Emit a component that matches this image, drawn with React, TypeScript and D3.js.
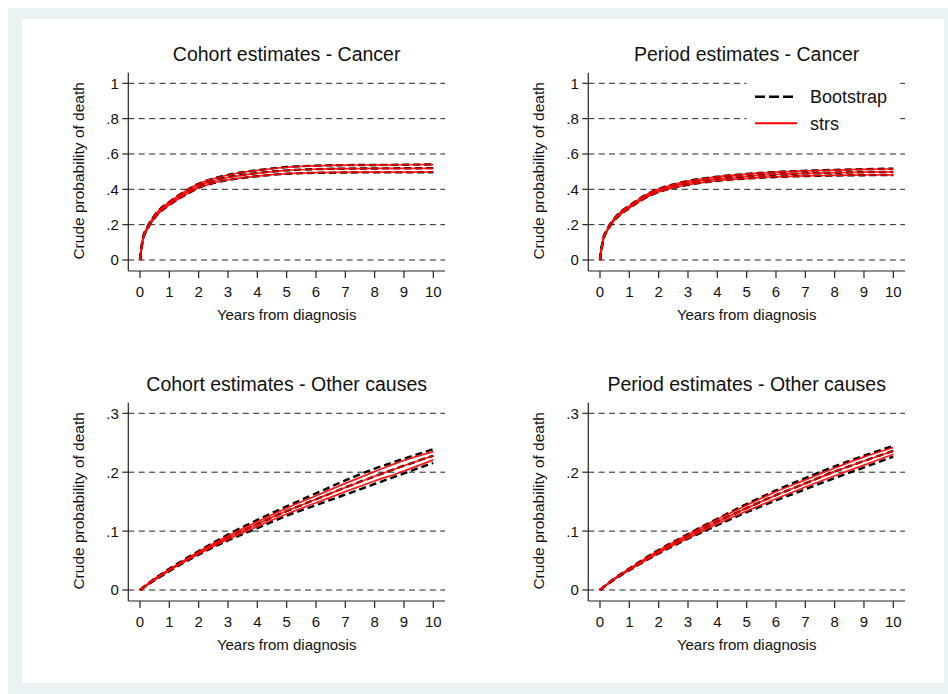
import React, { useEffect, useRef } from 'react';
import * as d3 from 'd3';

const FONT = '"Liberation Sans", Arial, Helvetica, sans-serif';

// follow-up grid (years) used by the estimates
const yearsCancer = [0, 0.1, 0.25, 0.5, 0.75, 1, 1.5, 2, 2.5, 3, 4, 5, 6, 7, 8, 9, 10];
const yearsOther = [0, 0.5, 1, 2, 3, 4, 5, 6, 7, 8, 9, 10];

// Cohort - Cancer
const cohortCancerStrs = [0, 0.12, 0.18, 0.245, 0.29, 0.32, 0.375, 0.42, 0.448, 0.467, 0.491, 0.507, 0.514, 0.517, 0.518, 0.519, 0.519];
const cohortCancerStrsLo = [0, 0.116, 0.175, 0.238, 0.282, 0.312, 0.365, 0.409, 0.436, 0.453, 0.475, 0.489, 0.494, 0.496, 0.497, 0.497, 0.498];
const cohortCancerStrsHi = [0, 0.124, 0.185, 0.252, 0.298, 0.328, 0.385, 0.431, 0.46, 0.481, 0.507, 0.525, 0.533, 0.537, 0.538, 0.539, 0.54];
const cohortCancerBoot = [0, 0.121, 0.181, 0.246, 0.29, 0.321, 0.376, 0.42, 0.448, 0.468, 0.492, 0.507, 0.514, 0.517, 0.518, 0.519, 0.52];
const cohortCancerBootLo = [0, 0.115, 0.174, 0.237, 0.281, 0.311, 0.364, 0.408, 0.435, 0.452, 0.474, 0.488, 0.493, 0.495, 0.496, 0.496, 0.497];
const cohortCancerBootHi = [0, 0.125, 0.186, 0.253, 0.299, 0.329, 0.386, 0.432, 0.461, 0.482, 0.508, 0.526, 0.534, 0.537, 0.538, 0.539, 0.541];

// Period - Cancer
const periodCancerStrs = [0, 0.11, 0.17, 0.232, 0.272, 0.3, 0.355, 0.393, 0.418, 0.436, 0.46, 0.474, 0.484, 0.49, 0.494, 0.497, 0.499];
const periodCancerStrsLo = [0, 0.107, 0.166, 0.227, 0.266, 0.294, 0.348, 0.385, 0.409, 0.426, 0.449, 0.462, 0.471, 0.476, 0.479, 0.481, 0.482];
const periodCancerStrsHi = [0, 0.113, 0.174, 0.237, 0.278, 0.306, 0.362, 0.401, 0.427, 0.446, 0.471, 0.486, 0.497, 0.504, 0.509, 0.513, 0.516];
const periodCancerBoot = [0, 0.11, 0.17, 0.232, 0.272, 0.3, 0.355, 0.393, 0.418, 0.436, 0.46, 0.474, 0.484, 0.49, 0.494, 0.497, 0.499];
const periodCancerBootLo = [0, 0.106, 0.165, 0.226, 0.265, 0.293, 0.347, 0.384, 0.408, 0.425, 0.448, 0.461, 0.47, 0.475, 0.478, 0.48, 0.481];
const periodCancerBootHi = [0, 0.114, 0.175, 0.238, 0.279, 0.307, 0.363, 0.402, 0.428, 0.447, 0.472, 0.487, 0.498, 0.505, 0.51, 0.514, 0.517];

// Cohort - Other causes
const cohortOtherStrs = [0, 0.018, 0.034, 0.063, 0.089, 0.112, 0.134, 0.154, 0.174, 0.193, 0.211, 0.228];
const cohortOtherStrsLo = [0, 0.017, 0.033, 0.061, 0.086, 0.108, 0.129, 0.148, 0.167, 0.185, 0.202, 0.221];
const cohortOtherStrsHi = [0, 0.019, 0.035, 0.065, 0.092, 0.116, 0.139, 0.16, 0.181, 0.201, 0.22, 0.235];
const cohortOtherBoot = [0, 0.018, 0.034, 0.063, 0.089, 0.112, 0.134, 0.154, 0.174, 0.193, 0.211, 0.228];
const cohortOtherBootLo = [0, 0.0165, 0.032, 0.06, 0.084, 0.105, 0.126, 0.144, 0.162, 0.18, 0.198, 0.216];
const cohortOtherBootHi = [0, 0.0195, 0.036, 0.066, 0.094, 0.119, 0.142, 0.164, 0.186, 0.206, 0.223, 0.239];

// Period - Other causes
const periodOtherStrs = [0, 0.019, 0.035, 0.065, 0.091, 0.116, 0.139, 0.161, 0.181, 0.201, 0.219, 0.236];
const periodOtherStrsLo = [0, 0.0185, 0.034, 0.063, 0.088, 0.112, 0.134, 0.155, 0.175, 0.194, 0.212, 0.2305];
const periodOtherStrsHi = [0, 0.0195, 0.036, 0.067, 0.094, 0.12, 0.144, 0.167, 0.187, 0.207, 0.226, 0.242];
const periodOtherBoot = [0, 0.019, 0.035, 0.065, 0.091, 0.116, 0.139, 0.161, 0.181, 0.201, 0.219, 0.236];
const periodOtherBootLo = [0, 0.018, 0.0335, 0.062, 0.087, 0.11, 0.132, 0.152, 0.171, 0.19, 0.208, 0.2265];
const periodOtherBootHi = [0, 0.02, 0.0365, 0.068, 0.095, 0.121, 0.146, 0.169, 0.19, 0.21, 0.228, 0.2447];

const xTicks = [0, 1, 2, 3, 4, 5, 6, 7, 8, 9, 10];
const yTicksCancer = [0, 0.2, 0.4, 0.6, 0.8, 1];
const yTicksOther = [0, 0.1, 0.2, 0.3];
const fmtTick = (v: number) => (v === 0 ? '0' : v === 1 ? '1' : String(v).replace(/^0/, ''));

const panels = [
  { title: 'Cohort estimates - Cancer', ox: 0, oy: 0, years: yearsCancer, yMax: 1, yTicks: yTicksCancer,
    strs: [cohortCancerStrs, cohortCancerStrsLo, cohortCancerStrsHi], boot: [cohortCancerBoot, cohortCancerBootLo, cohortCancerBootHi], legend: false },
  { title: 'Period estimates - Cancer', ox: 460, oy: 0, years: yearsCancer, yMax: 1, yTicks: yTicksCancer,
    strs: [periodCancerStrs, periodCancerStrsLo, periodCancerStrsHi], boot: [periodCancerBoot, periodCancerBootLo, periodCancerBootHi], legend: true },
  { title: 'Cohort estimates - Other causes', ox: 0, oy: 330, years: yearsOther, yMax: 0.3, yTicks: yTicksOther,
    strs: [cohortOtherStrs, cohortOtherStrsLo, cohortOtherStrsHi], boot: [cohortOtherBoot, cohortOtherBootLo, cohortOtherBootHi], legend: false },
  { title: 'Period estimates - Other causes', ox: 460, oy: 330, years: yearsOther, yMax: 0.3, yTicks: yTicksOther,
    strs: [periodOtherStrs, periodOtherStrsLo, periodOtherStrsHi], boot: [periodOtherBoot, periodOtherBootLo, periodOtherBootHi], legend: false },
];

export default function App() {
  const svgRef = useRef<SVGSVGElement>(null);

  useEffect(() => {
    const svg = d3.select(svgRef.current);
    svg.selectAll('*').remove();

    // graph region
    svg.append('rect').attr('width', 948).attr('height', 694).attr('fill', '#ffffff');
    svg.append('rect').attr('x', 8).attr('y', 8).attr('width', 940).attr('height', 686).attr('fill', '#eaf2f3');
    svg.append('rect').attr('x', 22).attr('y', 19).attr('width', 922).attr('height', 664).attr('fill', '#ffffff');

    panels.forEach(p => {
      const g = svg.append('g').attr('transform', `translate(${p.ox},${p.oy})`);
      const x = d3.scaleLinear().domain([0, 10]).range([140, 433.3]);
      const y = d3.scaleLinear().domain([0, p.yMax]).range([260, 83.3]);
      const axisX = 128.3, axisY = 271, right = 445, top = 72.7;

      // gridlines
      g.selectAll('line.grid').data(p.yTicks).enter().append('line')
        .attr('x1', axisX).attr('x2', right)
        .attr('y1', d => y(d)).attr('y2', d => y(d))
        .attr('stroke', '#222').attr('stroke-width', 1).attr('stroke-dasharray', '6,4.4');

      // y axis
      g.append('line').attr('x1', axisX).attr('x2', axisX).attr('y1', top).attr('y2', axisY)
        .attr('stroke', '#222').attr('stroke-width', 1.2);
      g.selectAll('line.yt').data(p.yTicks).enter().append('line')
        .attr('x1', axisX - 6).attr('x2', axisX).attr('y1', d => y(d)).attr('y2', d => y(d))
        .attr('stroke', '#222').attr('stroke-width', 1.2);
      g.selectAll('text.yt').data(p.yTicks).enter().append('text')
        .attr('x', axisX - 9.5).attr('y', d => y(d)).attr('dy', '0.36em')
        .attr('text-anchor', 'end').attr('font-size', 15).attr('font-family', FONT).attr('fill', '#111')
        .text(d => fmtTick(d));

      // x axis
      g.append('line').attr('x1', axisX).attr('x2', right).attr('y1', axisY).attr('y2', axisY)
        .attr('stroke', '#222').attr('stroke-width', 1.2);
      g.selectAll('line.xt').data(xTicks).enter().append('line')
        .attr('x1', d => x(d)).attr('x2', d => x(d)).attr('y1', axisY).attr('y2', axisY + 7)
        .attr('stroke', '#222').attr('stroke-width', 1.2);
      g.selectAll('text.xt').data(xTicks).enter().append('text')
        .attr('x', d => x(d)).attr('y', 296.5)
        .attr('text-anchor', 'middle').attr('font-size', 15).attr('font-family', FONT).attr('fill', '#111')
        .text(d => String(d));

      // titles
      g.append('text').attr('x', (axisX + right) / 2).attr('y', 60.5).attr('text-anchor', 'middle')
        .attr('font-size', 19.5).attr('font-family', FONT).attr('fill', '#111').text(p.title);
      g.append('text').attr('x', (axisX + right) / 2).attr('y', 320).attr('text-anchor', 'middle')
        .attr('font-size', 15).attr('font-family', FONT).attr('fill', '#111').text('Years from diagnosis');
      g.append('text').attr('transform', `translate(84,${(top + axisY) / 2 - 1}) rotate(-90)`).attr('text-anchor', 'middle')
        .attr('font-size', 15.5).attr('font-family', FONT).attr('fill', '#111').text('Crude probability of death');

      const line = d3.line<number>()
        .x((_, i) => x(p.years[i]))
        .y(d => y(d))
        .curve(d3.curveMonotoneX);

      p.boot.forEach(series => {
        g.append('path').attr('d', line(series)).attr('fill', 'none')
          .attr('stroke', '#000').attr('stroke-width', 2.4).attr('stroke-dasharray', '7,4');
      });
      p.strs.forEach(series => {
        g.append('path').attr('d', line(series)).attr('fill', 'none')
          .attr('stroke', '#ff0000').attr('stroke-width', 1.7).attr('stroke-opacity', 0.9);
      });

      if (p.legend) {
        g.append('rect').attr('x', 286.5).attr('y', 76).attr('width', 152).attr('height', 56).attr('fill', '#ffffff');
        g.append('line').attr('x1', 295).attr('x2', 337).attr('y1', 96.7).attr('y2', 96.7)
          .attr('stroke', '#000').attr('stroke-width', 2.4).attr('stroke-dasharray', '10,4');
        g.append('line').attr('x1', 295).attr('x2', 337).attr('y1', 123.3).attr('y2', 123.3)
          .attr('stroke', '#ff0000').attr('stroke-width', 2);
        g.append('text').attr('x', 350).attr('y', 96.7).attr('dy', '0.36em')
          .attr('font-size', 18).attr('font-family', FONT).attr('fill', '#111').text('Bootstrap');
        g.append('text').attr('x', 350).attr('y', 123.3).attr('dy', '0.36em')
          .attr('font-size', 18).attr('font-family', FONT).attr('fill', '#111').text('strs');
      }
    });
  }, []);

  return (
    <svg ref={svgRef} width={948} height={694}
      style={{ position: 'absolute', left: 0, top: 0, display: 'block' }} />
  );
}
